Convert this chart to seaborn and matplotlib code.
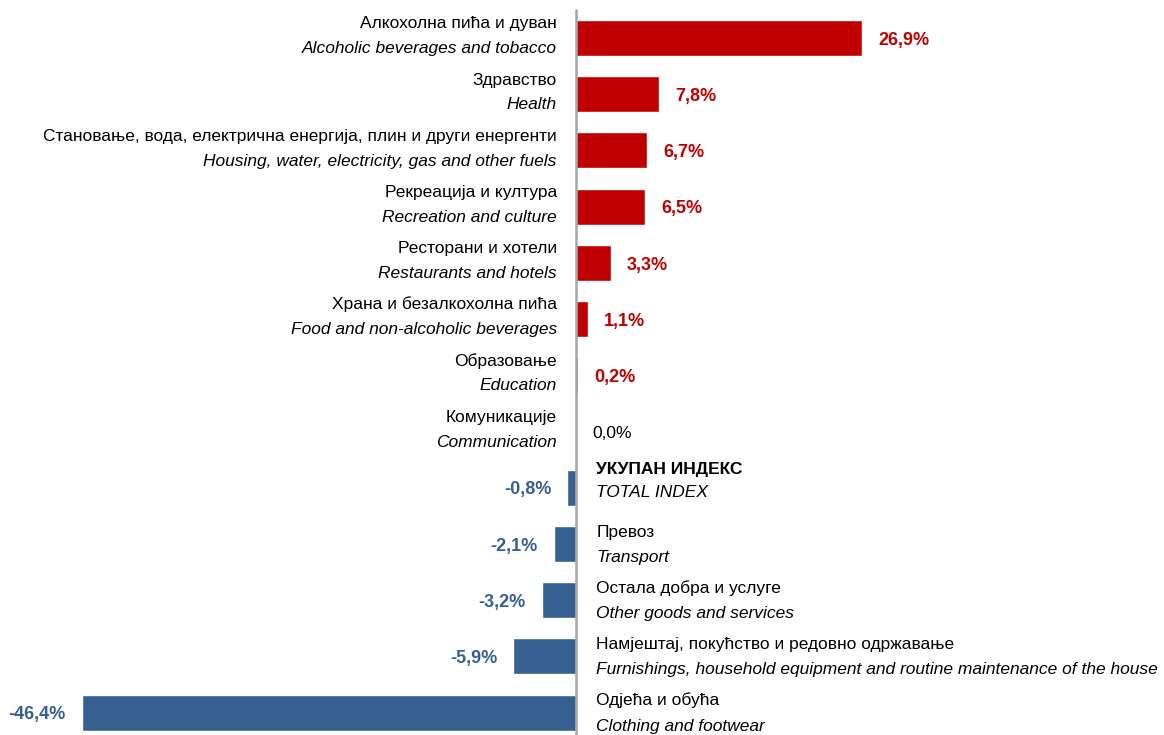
import matplotlib
matplotlib.use("Agg")
import matplotlib.pyplot as plt
from matplotlib import font_manager
import pandas as pd
import seaborn as sns

labels_sr = ["Алкохолна пића и дуван", "Здравство",
             "Становање, вода, електрична енергија, плин и други енергенти",
             "Рекреација и култура", "Ресторани и хотели",
             "Храна и безалкохолна пића", "Образовање", "Комуникације",
             "УКУПАН ИНДЕКС", "Превоз", "Остала добра и услуге",
             "Намјештај, покућство и редовно одржавање", "Одјећа и обућа"]
labels_en = ["Alcoholic beverages and tobacco", "Health",
             "Housing, water, electricity, gas and other fuels",
             "Recreation and culture", "Restaurants and hotels",
             "Food and non-alcoholic beverages", "Education", "Communication",
             "TOTAL INDEX", "Transport", "Other goods and services",
             "Furnishings, household equipment and routine maintenance of the house",
             "Clothing and footwear"]
values = [26.9, 7.8, 6.7, 6.5, 3.3, 1.1, 0.2, 0.0, -0.8, -2.1, -3.2, -5.9, -46.4]

RED = "#C00000"
BLUE = "#376092"

sns.set_theme(style="white")
names = {f.name for f in font_manager.fontManager.ttflist}
fam = "Liberation Sans Narrow" if "Liberation Sans Narrow" in names else "Liberation Sans"
plt.rcParams["font.family"] = [fam, "DejaVu Sans"]
plt.rcParams["text.color"] = "black"

df = pd.DataFrame({"row": labels_sr, "value": values})
df["sign"] = ["pos" if v >= 0 else "neg" for v in values]

fig = plt.figure(figsize=(11.64, 7.35), dpi=100)
ax = fig.add_axes([0, 0, 1, 1])

sns.barplot(data=df, x="value", y="row", hue="sign", orient="h",
            palette={"pos": RED, "neg": BLUE}, width=0.64, dodge=False,
            legend=False, saturation=1, ax=ax)

ax.set_xlim(-54.08, 55.21)
ax.set_ylim(12.40, -0.676)
ax.axvline(0, ymin=0, ymax=0.986, color="#A6A6A6", lw=1.8, zorder=4)
ax.set_axis_off()

fs = 12.5
for i, (sr, en, v) in enumerate(zip(labels_sr, labels_en, values)):
    if v >= 0:
        x, ha, d1, d2 = -1.8, "right", -0.17, 0.27
    elif en == "TOTAL INDEX":
        x, ha, d1, d2 = 1.9, "left", -0.24, 0.17
    else:
        x, ha, d1, d2 = 1.9, "left", -0.125, 0.32
    bold = "bold" if en == "TOTAL INDEX" else "normal"
    ax.text(x, i + d1, sr, ha=ha, va="baseline", fontsize=fs, weight=bold)
    ax.text(x, i + d2, en, ha=ha, va="baseline", fontsize=fs, style="italic")
    txt = f"{v:.1f}%".replace(".", ",")
    yv = i + 0.04
    if v > 0:
        ax.text(v + 1.5, yv, txt, ha="left", va="center", fontsize=13,
                weight="bold", color=RED)
    elif v < 0:
        ax.text(v - 1.5, yv, txt, ha="right", va="center", fontsize=13,
                weight="bold", color=BLUE)
    else:
        ax.text(1.5, yv, txt, ha="left", va="center", fontsize=fs, color="black")

fig.savefig("out.png", dpi=100)
